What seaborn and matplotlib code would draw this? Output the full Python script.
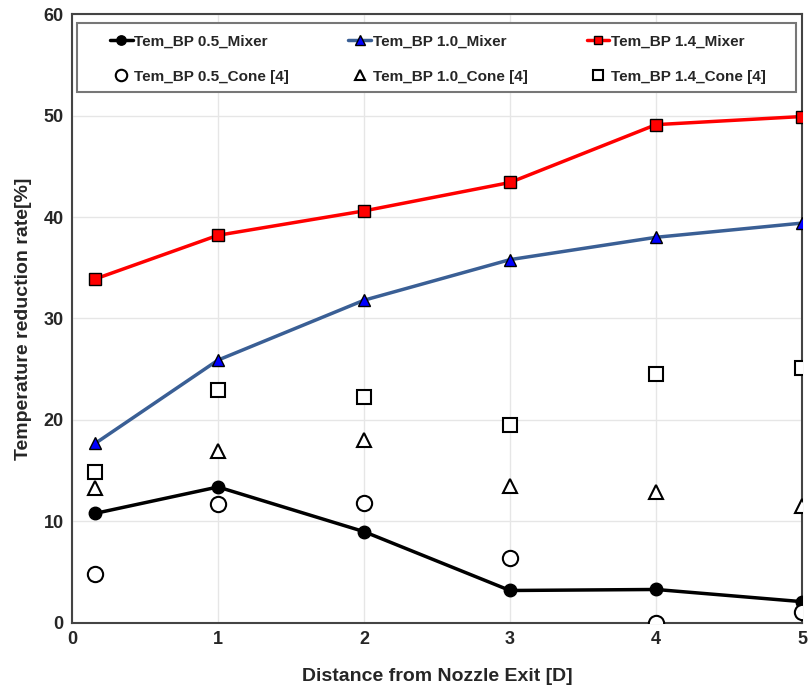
import matplotlib
matplotlib.use("Agg")
import matplotlib.pyplot as plt
from matplotlib.patches import Rectangle
import seaborn as sns
import pandas as pd

x_pos = [0.16, 1, 2, 3, 4, 5]
mixer_05 = [10.8, 13.4, 9.0, 3.2, 3.3, 2.1]
mixer_10 = [17.7, 25.9, 31.8, 35.8, 38.0, 39.4]
mixer_14 = [33.9, 38.2, 40.6, 43.4, 49.1, 49.9]
cone_05 = [4.8, 11.7, 11.8, 6.4, 0.0, 1.1]
cone_10 = [13.3, 16.9, 18.0, 13.5, 12.9, 11.5]
cone_14 = [14.9, 23.0, 22.3, 19.5, 24.5, 25.1]

labels = ["Tem_BP 0.5_Mixer", "Tem_BP 1.0_Mixer", "Tem_BP 1.4_Mixer",
          "Tem_BP 0.5_Cone [4]", "Tem_BP 1.0_Cone [4]", "Tem_BP 1.4_Cone [4]"]

sns.set_theme(style="white")
plt.rcParams['font.family'] = ['Liberation Sans', 'DejaVu Sans']
plt.rcParams['font.weight'] = 'bold'

fig = plt.figure(figsize=(8.08, 6.87), dpi=100)
ax = fig.add_axes([0.0891, 0.0932, 0.9035, 0.8864])

mix_styles = [
    (mixer_05, "black", "black", "o", 9),
    (mixer_10, "#3a5f95", "#0000ff", "^", 9),
    (mixer_14, "#ff0000", "#ff0000", "s", 8),
]
for (vals, lc, fc, mk, ms), lab in zip(mix_styles, labels[:3]):
    df = pd.DataFrame({"x": x_pos, "y": vals})
    sns.lineplot(data=df, x="x", y="y", ax=ax, color=lc, lw=2.5, marker=mk,
                 markersize=ms, markerfacecolor=fc, markeredgecolor="black",
                 markeredgewidth=1.0, label=lab, zorder=3)
cone_styles = [(cone_05, "o", 11), (cone_10, "^", 10.5), (cone_14, "s", 10.5)]
for (vals, mk, ms), lab in zip(cone_styles, labels[3:]):
    df = pd.DataFrame({"x": x_pos, "y": vals})
    sns.lineplot(data=df, x="x", y="y", ax=ax, color="black", lw=0, marker=mk,
                 markersize=ms, markerfacecolor="white", markeredgecolor="black",
                 markeredgewidth=1.5, label=lab, zorder=3)

ax.set_xlim(0, 5)
ax.set_ylim(0, 60)
ax.set_xticks([0, 1, 2, 3, 4, 5])
ax.set_yticks([0, 10, 20, 30, 40, 50, 60])
ax.grid(True, color="#e6e6e6", lw=1)
for s in ax.spines.values():
    s.set_color("#444444")
    s.set_linewidth(1.5)
ax.tick_params(labelsize=13, length=0, pad=6)
for t in ax.get_xticklabels() + ax.get_yticklabels():
    t.set_fontweight("bold")
ax.set_xlabel("Distance from Nozzle Exit [D]", fontsize=14, fontweight="bold", labelpad=14)
ax.set_ylabel("Temperature reduction rate[%]", fontsize=14, fontweight="bold", labelpad=8)

# legend frame drawn separately (wider horizontal padding than vertical)
ax.add_patch(Rectangle((0.007, 0.872), 0.985, 0.114, transform=ax.transAxes,
                       facecolor="white", edgecolor="#777777", lw=1.5, zorder=5))

h, l = ax.get_legend_handles_labels()
order = [0, 3, 1, 4, 2, 5]
leg = ax.legend([h[i] for i in order], [l[i] for i in order], ncol=3,
                loc="upper left", bbox_to_anchor=(0.052, 0.0, 0.8985, 0.966),
                mode="expand", frameon=False,
                prop={"weight": "bold", "size": 11}, handlelength=1.5,
                handletextpad=0.1, borderpad=0.0, borderaxespad=0.0,
                labelspacing=1.38, markerscale=0.75)
leg.set_zorder(6)

fig.savefig("out.png", dpi=100)
